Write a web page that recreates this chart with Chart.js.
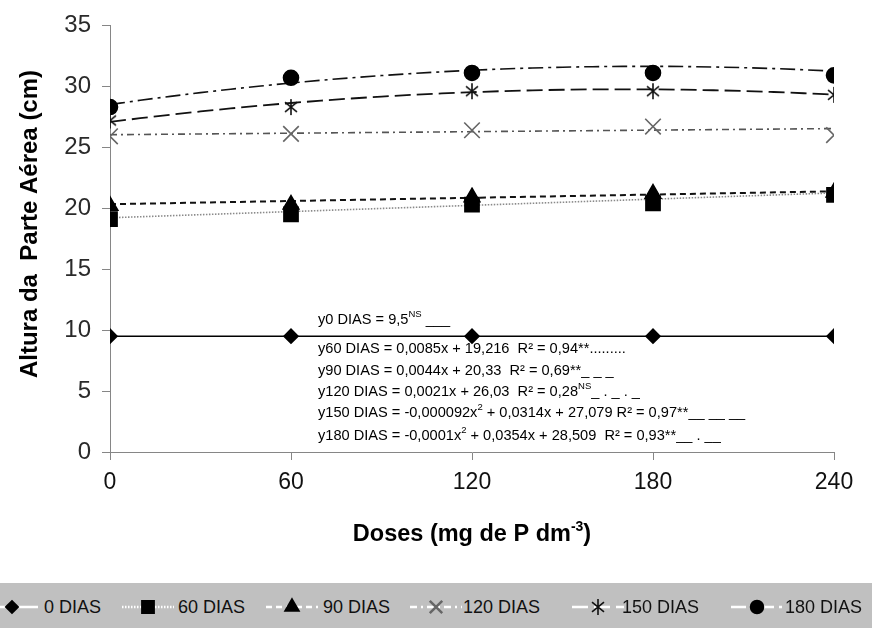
<!DOCTYPE html>
<html>
<head>
<meta charset="utf-8">
<script src="https://cdn.jsdelivr.net/npm/chart.js@4.4.1/dist/chart.umd.min.js"></script>
<style>
  html, body { margin: 0; padding: 0; background: #fff; }
  #wrap { position: relative; width: 872px; height: 628px; overflow: hidden; }
  #legend { position: absolute; left: 0; top: 583px; width: 872px; height: 45px; background: #c0c0c0;
            font-family: "Liberation Sans", Arial, sans-serif; font-size: 18px; color: #111; }
  .lg-text { position: absolute; top: 14px; line-height: 20px; white-space: nowrap; }
  .lg-icon { position: absolute; top: 12px; }
</style>
</head>
<body>
<div id="wrap">
  <canvas id="chart" width="872" height="628"></canvas>
  <div id="legend"></div>
</div>
<script>
// Phosphorus doses (mg de P dm-3)
const doses = [0, 60, 120, 180, 240];

// Shoot height (cm) at each evaluation date
const dias0   = [9.5, 9.5, 9.5, 9.5, 9.5];
const dias60  = [19.1, 19.5, 20.3, 20.4, 21.1];
const dias90  = [20.2, 20.3, 20.9, 21.2, 21.3];
const dias120 = [25.9, 26.1, 26.4, 26.7, 26.0];
const dias150 = [27.2, 28.3, 29.6, 29.6, 29.3];
const dias180 = [28.3, 30.7, 31.1, 31.1, 30.9];

// Fitted regression coefficients [intercept, linear, quadratic]
const fit0   = [9.5, 0, 0];
const fit60  = [19.216, 0.0085, 0];
const fit90  = [20.33, 0.0044, 0];
const fit120 = [26.03, 0.0021, 0];
const fit150 = [27.079, 0.0314, -0.000092];
const fit180 = [28.509, 0.0354, -0.0001];

const seriesLabels = ['0 DIAS', '60 DIAS', '90 DIAS', '120 DIAS', '150 DIAS', '180 DIAS'];
const yTicks = [0, 5, 10, 15, 20, 25, 30, 35];

// Regression equations shown inside the plot (segments: [text, superscript?])
const equations = [
  [['y0 DIAS = 9,5'], ['NS', true], [' ___']],
  [['y60 DIAS = 0,0085x + 19,216  R\u00b2 = 0,94**.........']],
  [['y90 DIAS = 0,0044x + 20,33  R\u00b2 = 0,69**_ _ _']],
  [['y120 DIAS = 0,0021x + 26,03  R\u00b2 = 0,28'], ['NS', true], ['_ . _ . _']],
  [['y150 DIAS = -0,000092x'], ['2', true], [' + 0,0314x + 27,079 R\u00b2 = 0,97**__ __ __']],
  [['y180 DIAS = -0,0001x'], ['2', true], [' + 0,0354x + 28,509  R\u00b2 = 0,93**__ . __']]
];

// Asterisk marker: vertical stroke crossed by an X
function makeAsterisk(size, color) {
  const c = document.createElement('canvas');
  c.width = size; c.height = size;
  const g = c.getContext('2d');
  g.strokeStyle = color; g.lineWidth = 1.6;
  const m = size / 2, r = size / 2 - 1;
  g.beginPath();
  g.moveTo(m, m - r); g.lineTo(m, m + r);
  g.moveTo(m - 0.75 * r, m - 0.6 * r); g.lineTo(m + 0.75 * r, m + 0.6 * r);
  g.moveTo(m - 0.75 * r, m + 0.6 * r); g.lineTo(m + 0.75 * r, m - 0.6 * r);
  g.stroke();
  return c;
}
const asterisk = makeAsterisk(18, '#111');

const styles = [
  { point: 'rectRot', radius: 7, fill: '#000', stroke: '#000', line: '#000', dash: [], width: 1.6 },
  { point: 'rect', radius: 10, fill: '#000', stroke: '#000', line: '#8a8a8a', dash: [1.5, 1.5], width: 1.6 },
  { point: 'triangle', radius: 9, fill: '#000', stroke: '#000', line: '#111', dash: [6, 4], width: 2 },
  { point: 'crossRot', radius: 11, fill: '#666', stroke: '#666', line: '#555', dash: [7, 4, 2, 4], width: 1.6 },
  { point: asterisk, radius: 9, fill: '#111', stroke: '#111', line: '#111', dash: [16, 6], width: 1.8 },
  { point: 'circle', radius: 7.5, fill: '#000', stroke: '#000', line: '#111', dash: [15, 5, 3, 5], width: 1.6 }
];

const observed = [dias0, dias60, dias90, dias120, dias150, dias180];
const fits = [fit0, fit60, fit90, fit120, fit150, fit180];

function curve(coef) {
  const pts = [];
  const step = coef[2] === 0 ? 240 : 10;
  for (let x = 0; x <= 240; x += step) {
    pts.push({ x: x, y: coef[0] + coef[1] * x + coef[2] * x * x });
  }
  return pts;
}

const datasets = [];
observed.forEach((vals, i) => {
  const s = styles[i];
  datasets.push({
    type: 'scatter', label: seriesLabels[i], order: 0,
    data: doses.map((d, k) => ({ x: d, y: vals[k] })),
    showLine: false, pointStyle: s.point, pointRadius: s.radius, pointHoverRadius: s.radius,
    pointBackgroundColor: s.fill, pointBorderColor: s.stroke, pointBorderWidth: 1.6
  });
});
fits.forEach((coef, i) => {
  const s = styles[i];
  datasets.push({
    type: 'line', label: seriesLabels[i] + ' ajuste', order: 1,
    data: curve(coef), borderColor: s.line, borderDash: s.dash, borderWidth: s.width,
    pointRadius: 0, tension: 0.4, cubicInterpolationMode: 'monotone', fill: false
  });
});

const FONT = '"Liberation Sans", Arial, sans-serif';

const annotations = {
  id: 'annotations',
  beforeDatasetsDraw(chart) {
    const ctx = chart.ctx;
    ctx.save();
    ctx.fillStyle = '#000';
    ctx.textBaseline = 'middle';
    const rows = [320, 349, 371, 392, 413, 436];
    equations.forEach((segs, r) => {
      let x = 318;
      segs.forEach(seg => {
        const sup = seg[1] === true;
        ctx.font = (sup ? '9.5px ' : '14.6px ') + FONT;
        const y = rows[r] + (sup ? -6 : 0);
        ctx.fillText(seg[0], x, y);
        x += ctx.measureText(seg[0]).width;
      });
    });
    ctx.restore();
  },
  afterDraw(chart) {
    const ctx = chart.ctx;
    const area = chart.chartArea;
    ctx.save();
    ctx.fillStyle = '#000';
    // y axis title
    ctx.font = 'bold 24px ' + FONT;
    ctx.textAlign = 'center';
    ctx.textBaseline = 'middle';
    ctx.translate(30, 224);
    ctx.rotate(-Math.PI / 2);
    ctx.fillText('Altura da  Parte A\u00e9rea (cm)', 0, 0);
    ctx.restore();

    // x axis title with superscript exponent
    ctx.save();
    ctx.fillStyle = '#000';
    ctx.textBaseline = 'middle';
    const main = 'Doses (mg de P dm';
    const sup = '-3';
    const tail = ')';
    ctx.font = 'bold 23.5px ' + FONT;
    const w1 = ctx.measureText(main).width;
    const w3 = ctx.measureText(tail).width;
    ctx.font = 'bold 14px ' + FONT;
    const w2 = ctx.measureText(sup).width;
    const cx = (area.left + area.right) / 2;
    let x = cx - (w1 + w2 + w3) / 2;
    const y = 535;
    ctx.font = 'bold 23.5px ' + FONT;
    ctx.fillText(main, x, y); x += w1;
    ctx.font = 'bold 14px ' + FONT;
    ctx.fillText(sup, x, y - 8); x += w2;
    ctx.font = 'bold 23.5px ' + FONT;
    ctx.fillText(tail, x, y);
    ctx.restore();
  }
};

const chart = new Chart(document.getElementById('chart'), {
  data: { datasets: datasets },
  options: {
    responsive: false,
    animation: false,
    events: [],
    layout: { padding: { top: 20, right: 38, left: 0, bottom: 0 } },
    plugins: { legend: { display: false }, tooltip: { enabled: false } },
    scales: {
      x: {
        type: 'linear', min: 0, max: 240,
        ticks: { stepSize: 60, color: '#111', font: { family: FONT, size: 23 }, padding: 9 },
        grid: { drawOnChartArea: false, tickLength: 8, color: '#868686' },
        border: { color: '#868686', width: 1 },
        afterFit(s) { s.height = 176; }
      },
      y: {
        type: 'linear', min: 0, max: 35,
        afterBuildTicks(s) { s.ticks = yTicks.map(v => ({ value: v })); },
        ticks: { color: '#2a2a2a', font: { family: FONT, size: 24 }, padding: 11 },
        grid: { drawOnChartArea: false, tickLength: 8, color: '#868686' },
        border: { color: '#868686', width: 1 },
        afterFit(s) { s.width = 110; }
      }
    }
  },
  plugins: [annotations]
});

// Legend strip: white line sample with marker, followed by the series name
const legend = document.getElementById('legend');
const iconCenters = [12, 148, 292, 436, 598, 757];
const textLefts = [44, 178, 323, 463, 622, 785];
seriesLabels.forEach((label, i) => {
  const s = styles[i];
  const c = document.createElement('canvas');
  c.width = 52; c.height = 24;
  c.className = 'lg-icon';
  c.style.left = (iconCenters[i] - 26) + 'px';
  const g = c.getContext('2d');
  g.strokeStyle = '#fff';
  g.lineWidth = 2.5;
  g.setLineDash(s.dash);
  g.beginPath(); g.moveTo(0, 12); g.lineTo(52, 12); g.stroke();
  g.setLineDash([]);
  g.fillStyle = s.fill; g.strokeStyle = s.stroke;
  Chart.helpers.drawPoint(g, { pointStyle: s.point, radius: s.radius * 0.8, borderWidth: 1.6, rotation: 0 }, 26, 12);
  legend.appendChild(c);
  const t = document.createElement('span');
  t.className = 'lg-text';
  t.style.left = textLefts[i] + 'px';
  t.textContent = label;
  legend.appendChild(t);
});
</script>
</body>
</html>
